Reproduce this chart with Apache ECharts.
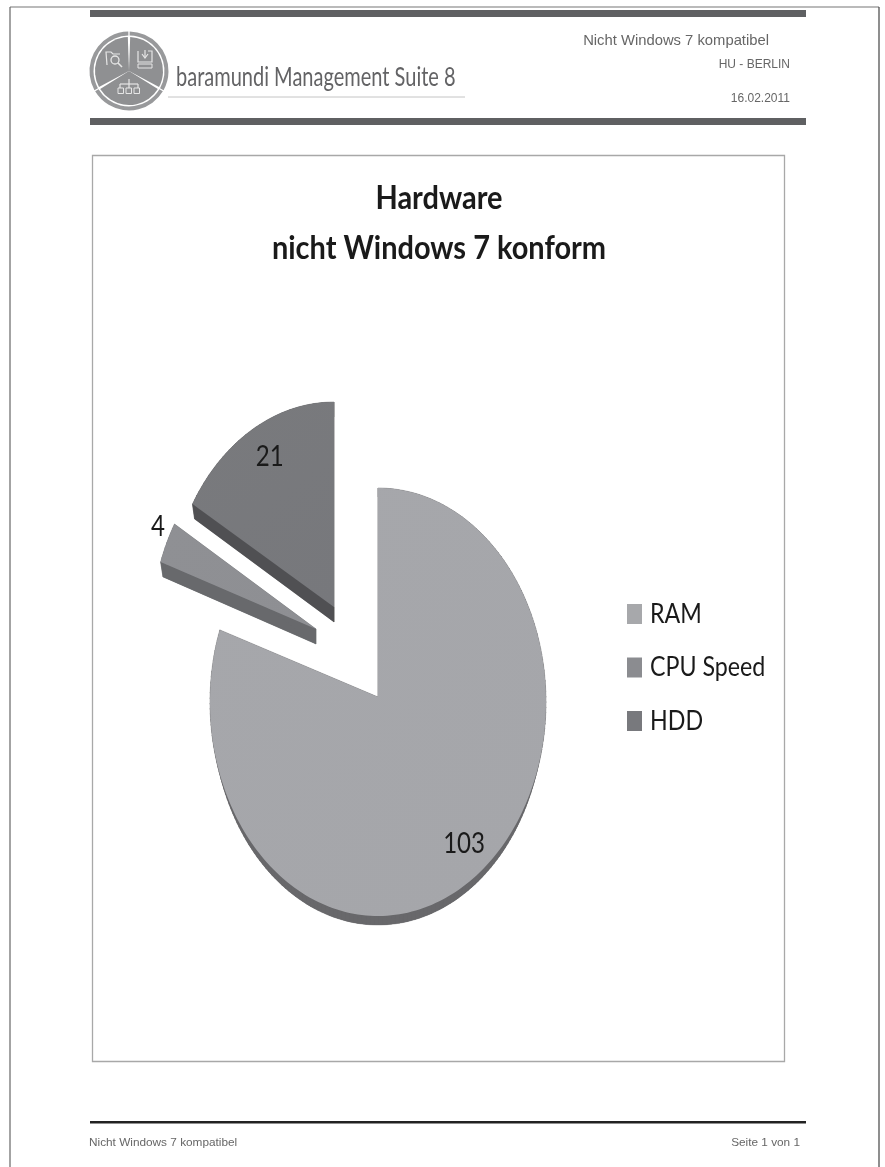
<!DOCTYPE html>
<html><head><meta charset="utf-8">
<style>html,body{margin:0;padding:0;background:#fff}#c{width:885px;height:1167px}</style>
<script src="https://cdn.jsdelivr.net/npm/echarts@6/dist/echarts.min.js"></script>
</head><body><div id="c"></div>
<script>
// ---- data ----
const categories = ['RAM', 'CPU Speed', 'HDD'];
const values = [103, 4, 21];
const titleLines = ['Hardware', 'nicht Windows 7 konform'];
// ---- styling and layout of the exploded slices ----
const faceColors = ['#a5a6aa', '#8e8f93', '#77787c'];
const sideColors = ['#68686b', '#68696c', '#505053'];
const legendColors = ['#a7a8ab', '#8b8c90', '#78797d'];
const apexX = [378, 316, 334];
const apexY = [697, 629, 607];
const arcCY = [702, 634, 612];
const radiusX = [168, 165, 165];
const radiusY = [214, 214, 210];
const depth = [9, 15, 15];
const labelFactorX = [0.89, 1.06, 0.79];
const labelFactorY = [0.80, 1.19, 0.86];
const labelLift = -2;
const sideInset = 0.985;
const legendTextY = [614.5, 667.5, 721];
const total = values.reduce((a, b) => a + b, 0);

function outline(i) {
  let before = 0;
  for (let k = 0; k < i; k++) before += values[k];
  const a0 = before / total * 2 * Math.PI;
  const a1 = (before + values[i]) / total * 2 * Math.PI;
  const pts = [[apexX[i], apexY[i]]];
  const n = Math.max(6, Math.ceil((a1 - a0) * 40));
  for (let s = 0; s <= n; s++) {
    const a = a0 + (a1 - a0) * s / n;
    pts.push([apexX[i] + Math.sin(a) * radiusX[i], arcCY[i] - Math.cos(a) * radiusY[i]]);
  }
  return { pts, mid: (a0 + a1) / 2 };
}

function sliceRender(i) {
  return function () {
    const { pts, mid } = outline(i);
    const d = depth[i];
    const children = [];
    const low = pts.map(p => [apexX[i] + (p[0] - apexX[i]) * sideInset, p[1] + d]);
    children.push({ type: 'polygon', shape: { points: low }, style: { fill: sideColors[i] }, silent: true });
    for (let k = 0; k < pts.length; k++) {
      const m = (k + 1) % pts.length;
      children.push({ type: 'polygon', shape: { points: [pts[k], pts[m], low[m], low[k]] },
        style: { fill: sideColors[i], stroke: sideColors[i], lineWidth: 0.4 }, silent: true });
    }
    children.push({ type: 'polygon', shape: { points: pts }, style: {
      fill: new echarts.graphic.LinearGradient(0, 0, 1, 1, [
        { offset: 0, color: echarts.color.lift(faceColors[i], 0.015) },
        { offset: 1, color: faceColors[i] }]) }, silent: true });
    children.push({ type: 'text', z2: 10,
      x: apexX[i] + Math.sin(mid) * radiusX[i] * labelFactorX[i],
      y: arcCY[i] - Math.cos(mid) * radiusY[i] * labelFactorY[i] - labelLift,
      scaleX: 0.86,
      style: {
        text: String(values[i]), align: 'center', verticalAlign: 'middle',
        font: '28px Lato', fill: '#1a1a1a' } });
    return { type: 'group', children };
  };
}

const series = categories.map((name, i) => ({
  type: 'custom', name, coordinateSystem: 'none',
  itemStyle: { color: legendColors[i] },
  data: [[values[i]]],
  renderItem: sliceRender(i),
  animation: false, silent: true
}));

// ---- page furniture ----
const bar = (x, y, w, h, fill) => ({ type: 'rect', shape: { x, y, width: w, height: h }, style: { fill }, silent: true });
const txt = (text, x, y, font, fill, align, scaleX) => ({ type: 'text', silent: true, x, y, scaleX: scaleX || 1, style: { text, font, fill, align: align || 'left', verticalAlign: 'middle' } });
const line = (x1, y1, x2, y2, stroke, lineWidth) => ({ type: 'line', silent: true, shape: { x1, y1, x2, y2 }, style: { stroke, lineWidth: lineWidth || 1.2 } });
const rad = d => d * Math.PI / 180;
const lx = 129, ly = 71;
const logo = [];
[[-88, 28], [32, 148], [152, 268]].forEach(([a, b]) => {
  logo.push({ type: 'sector', silent: true, shape: { cx: lx, cy: ly, r: 34, r0: 0, startAngle: rad(a), endAngle: rad(b) }, style: { fill: '#8f9092' } });
  logo.push({ type: 'sector', silent: true, shape: { cx: lx, cy: ly, r: 39.5, r0: 35.5, startAngle: rad(a - 1), endAngle: rad(b + 1) }, style: { fill: '#98999b' } });
});
const w = '#e6e6e6';
logo.push(
  { type: 'polyline', silent: true, shape: { points: [[107, 65], [106, 52], [111, 52], [113, 54], [120, 54]] }, style: { stroke: w, lineWidth: 1.2, fill: 'none' } },
  { type: 'circle', silent: true, shape: { cx: 115, cy: 60, r: 4 }, style: { stroke: w, lineWidth: 1.3, fill: 'none' } },
  line(118, 63, 122, 67, w, 1.6),
  { type: 'polyline', silent: true, shape: { points: [[138, 51], [138, 62], [152, 62], [152, 51], [148, 51]] }, style: { stroke: w, lineWidth: 1.2, fill: 'none' } },
  line(145, 50, 145, 57, w), { type: 'polyline', silent: true, shape: { points: [[142, 54], [145, 58], [148, 54]] }, style: { stroke: w, lineWidth: 1.2, fill: 'none' } },
  { type: 'rect', silent: true, shape: { x: 138, y: 64, width: 14, height: 4 }, style: { stroke: w, lineWidth: 1, fill: 'none' } },
  line(129, 79, 129, 84, w), line(120, 84, 138, 84, w), line(120, 84, 120, 88, w), line(138, 84, 138, 88, w), line(129, 84, 129, 88, w)
);
[118, 126, 134].forEach(x => logo.push({ type: 'rect', silent: true, shape: { x, y: 88, width: 5.5, height: 5.5 }, style: { stroke: w, lineWidth: 1, fill: 'none' } }));

const furniture = [
  line(10, 7, 879, 7, '#777', 1.2), line(10, 7, 10, 1167, '#666', 1.2), line(879, 7, 879, 1167, '#444', 1.2),
  bar(90, 10, 716, 7, '#5f6062'), bar(90, 118, 716, 7, '#5f6062'),
  bar(90, 1121, 716, 2.5, '#222'),
  { type: 'rect', silent: true, shape: { x: 92.5, y: 155.5, width: 692, height: 906 }, style: { fill: '#fff', stroke: '#a8a8a8', lineWidth: 1.3 }, z: -1 },
  ...logo,
  txt('baramundi Management Suite 8', 176, 77, '26.5px Lato', '#636365', 'left', 0.755),
  line(168, 97, 465, 97, '#c4c4c4', 1),
  txt('Nicht Windows 7 kompatibel', 769, 41, '14.8px "Liberation Sans"', '#666', 'right'),
  txt('HU - BERLIN', 790, 65, '12px "Liberation Sans"', '#666', 'right'),
  txt('16.02.2011', 790, 99, '12px "Liberation Sans"', '#666', 'right'),
  txt('Nicht Windows 7 kompatibel', 89, 1142.5, '11.8px "Liberation Sans"', '#666'),
  txt('Seite 1 von 1', 800, 1142.5, '11.8px "Liberation Sans"', '#666', 'right'),
  txt(titleLines[0], 439, 199, 'bold 32px Lato', '#1a1a1a', 'center', 0.905),
  txt(titleLines[1], 439, 249, 'bold 32px Lato', '#1a1a1a', 'center', 0.905),
  ...categories.map((name, i) => txt(name, 650, legendTextY[i], '27px Lato', '#1a1a1a', 'left', 0.86))
];

const chart = echarts.init(document.getElementById('c'), null, { renderer: 'canvas' });
chart.setOption({
  animation: false,
  backgroundColor: '#fff',
  legend: {
    orient: 'vertical', left: 627, top: 604, padding: 0, itemWidth: 15, itemHeight: 20, itemGap: 33.5,
    icon: 'rect', selectedMode: false,
    data: categories,
    formatter: () => '',
    textStyle: { fontSize: 12 }
  },
  graphic: { elements: furniture },
  series
});
</script></body></html>
